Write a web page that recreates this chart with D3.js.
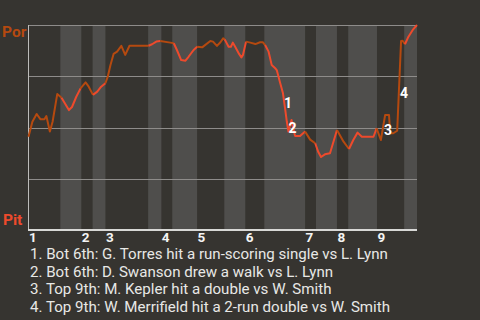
<!DOCTYPE html>
<html><head><meta charset="utf-8">
<script src="https://cdn.jsdelivr.net/npm/d3@7"></script>
<style>
html,body{margin:0;padding:0;background:#363430;}
svg{display:block;font-family:Roboto,"Noto Sans",sans-serif;}
</style></head>
<body><svg id="c" width="480" height="320"></svg>
<script>
// ---- data ----
const teams = ["Por", "Pit"];           // top = away (Por), bottom = home (Pit)
const innings = ["1","2","3","4","5","6","7","8","9"];
// half-inning boundaries, in % of game progress (top1, bot1, top2, ...)
const halfStarts = [0, 8.2, 13.6, 16.5, 19.8, 30.8, 34.2, 37.0, 43.4, 50.4, 55.8, 60.7, 71.2, 74.0, 79.4, 82.3, 89.7, 96.7];
const gameEnd = 100;
// game progress (%) of each play
const progress = [0,1.0,2.1,3.1,4.1,4.6,5.5,6.2,7.4,8.5,10.4,11.2,12.3,13.4,14.7,15.5,16.6,17.7,18.7,19.8,
  20.4,21.1,21.9,22.8,23.9,24.9,26.0,30.9,31.8,32.9,33.9,36.5,37.4,38.2,39.3,40.4,41.2,42.5,43.4,44.7,
  46.8,47.5,48.5,49.4,50.1,50.5,51.5,52.1,52.6,53.2,54.2,54.8,55.2,56.0,57.1,58.4,59.6,60.3,60.9,61.8,
  62.6,63.5,63.9,64.8,65.5,66.1,66.5,66.9,67.7,68.6,69.9,71.2,72.5,73.8,74.6,75.3,76.3,77.6,78.4,79.4,
  81.1,82.5,83.6,84.7,85.8,88.8,89.6,90.7,91.8,92.8,93.1,93.9,94.9,95.9,96.3,96.9,97.8,98.9,100];
// Por win probability (%) after each play
const porWinProb = [45.5,52.8,56.6,54.0,54.0,55.6,48.0,52.8,66.3,64.5,58.5,60.0,65.0,69.1,72.0,69.9,65.9,67.5,69.9,71.6,
  74.8,80.5,85.9,87.0,89.8,85.4,89.9,89.9,90.6,91.9,92.2,91.4,91.1,87.8,82.9,82.6,84.5,87.8,89.4,89.1,
  92.2,91.9,89.8,91.6,93.5,93.0,89.4,89.4,91.4,89.4,85.9,84.2,85.4,91.9,91.4,90.7,91.6,91.6,90.2,87.0,
  80.5,78.9,78.0,71.6,66.7,58.5,52.8,48.0,53.7,45.9,45.9,48.0,44.1,42.3,38.0,35.6,36.9,37.4,42.4,48.8,
  43.1,39.5,43.9,47.5,45.5,45.5,49.6,43.9,56.1,56.1,47.2,47.2,48.4,92.2,92.3,90.6,94.3,97.6,100];
const gridValues = [25, 50, 75, 100];
// key plays: index of the play in the series, and description
const keyPlayIndex = [65, 67, 88, 93];
const keyPlayText = [
  "Bot 6th: G. Torres hit a run-scoring single vs L. Lynn",
  "Bot 6th: D. Swanson drew a walk vs L. Lynn",
  "Top 9th: M. Kepler hit a double vs W. Smith",
  "Top 9th: W. Merrifield hit a 2-run double vs W. Smith"
];

// ---- drawing ----
const svg = d3.select("#c");
const L = 28.5, R = 417, T = 25, B = 230;
const x = d3.scaleLinear().domain([0, gameEnd]).range([L, R]);
const y = d3.scaleLinear().domain([0, 100]).range([B, T]);
const colTop = "#b5490f", colBot = "#ee4a2c";

// bottom-half bands
halfStarts.forEach((s, i) => {
  if (i % 2 === 1) {
    const e = i + 1 < halfStarts.length ? halfStarts[i + 1] : gameEnd;
    svg.append("rect").attr("x", x(s)).attr("y", T).attr("width", x(e) - x(s)).attr("height", B - T)
      .attr("fill", "#4f4e4c");
  }
});

// gridlines
svg.selectAll(".g").data(gridValues).enter().append("line")
  .attr("x1", L).attr("x2", R).attr("y1", d => Math.round(y(d)) + 0.5).attr("y2", d => Math.round(y(d)) + 0.5)
  .attr("stroke", "#8e8c8a").attr("stroke-width", 1);

// axes
svg.append("line").attr("x1", L).attr("x2", L).attr("y1", T).attr("y2", B).attr("stroke", "#bdbcba").attr("stroke-width", 1);
svg.append("line").attr("x1", L - 0.5).attr("x2", R).attr("y1", B).attr("y2", B).attr("stroke", "#d8d8d6").attr("stroke-width", 2);

// inning tick labels
const inningStarts = halfStarts.filter((d, i) => i % 2 === 0);
svg.selectAll(".inn").data(innings).enter().append("text")
  .attr("x", (d, i) => x(inningStarts[i]) + 0.5).attr("y", 241.5)
  .attr("fill", "#f4f4f4").attr("font-size", 13.5).attr("font-weight", "bold").text(d => d);

// team labels
svg.append("text").attr("x", 2).attr("y", 37).attr("fill", colTop).attr("font-size", 15.5).attr("font-weight", "bold").text(teams[0]);
svg.append("text").attr("x", 3).attr("y", 225).attr("fill", colBot).attr("font-size", 15.5).attr("font-weight", "bold").text(teams[1]);

// line segments coloured by half inning
function halfOf(p) { let h = 0; halfStarts.forEach((s, i) => { if (p >= s) h = i; }); return h; }
const pts = progress.map((p, i) => [p, porWinProb[i]]);
const segs = [];
for (let i = 0; i < pts.length - 1; i++) {
  const mid = (pts[i][0] + pts[i + 1][0]) / 2;
  segs.push({ a: pts[i], b: pts[i + 1], bottom: halfOf(mid) % 2 === 1 });
}
const runs = [];
segs.forEach(s => {
  const last = runs[runs.length - 1];
  if (last && last.bottom === s.bottom) last.pts.push(s.b);
  else runs.push({ bottom: s.bottom, pts: [s.a, s.b] });
});
const line = d3.line().x(d => x(d[0])).y(d => y(d[1]));
svg.selectAll(".run").data(runs).enter().append("path")
  .attr("d", d => line(d.pts)).attr("fill", "none")
  .attr("stroke", d => d.bottom ? colBot : colTop).attr("stroke-width", 2).attr("stroke-linejoin", "round");

// key play markers, next to the middle of the play's segment
const markOffset = [[4, 6], [5, 6.5], [5, 7.5], [5, 12]];
keyPlayIndex.forEach((idx, i) => {
  const mx = (x(progress[idx]) + x(progress[idx - 1])) / 2;
  const my = (y(porWinProb[idx]) + y(porWinProb[idx - 1])) / 2;
  svg.append("text").attr("x", mx + markOffset[i][0]).attr("y", my + markOffset[i][1])
    .attr("fill", "#ffffff").attr("font-size", 14).attr("font-weight", "bold").attr("text-anchor", "middle")
    .text(i + 1);
});

// legend text
keyPlayText.forEach((t, i) => {
  svg.append("text").attr("x", 30).attr("y", 259 + i * 17.6).attr("fill", "#e8e8e6").attr("font-size", 15.1)
    .text((i + 1) + ". " + t);
});
</script></body></html>
